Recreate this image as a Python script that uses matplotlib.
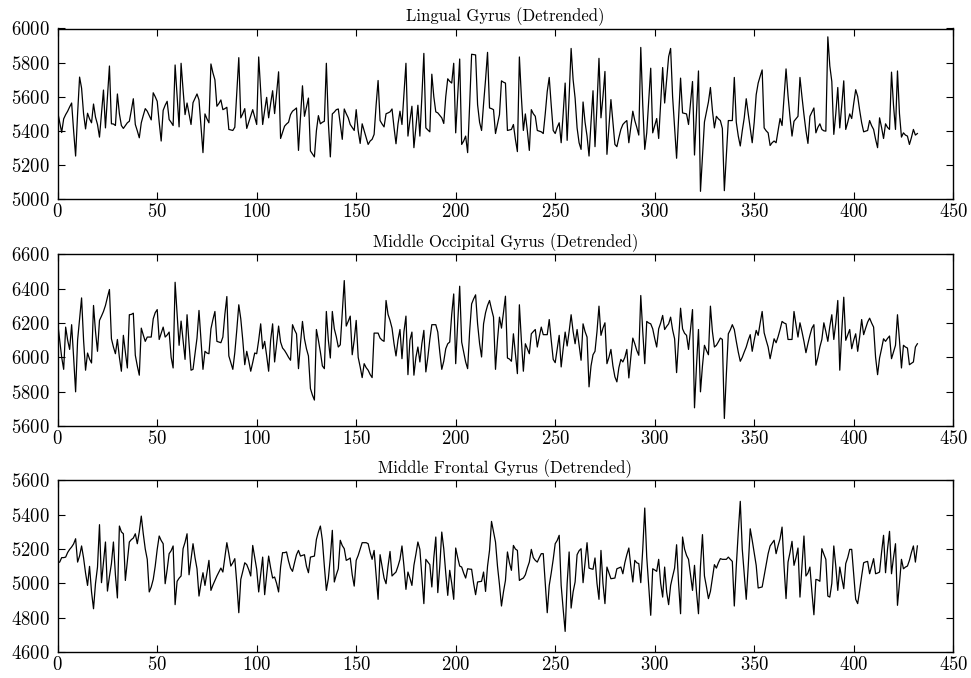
import numpy as np
import matplotlib
matplotlib.use("Agg")
import matplotlib.pyplot as plt

plt.rcParams['font.family'] = ['cmr10', 'DejaVu Serif']
plt.rcParams['axes.formatter.use_mathtext'] = True
plt.rcParams['font.size'] = 12

titles = ["Lingual Gyrus (Detrended)",
          "Middle Occipital Gyrus (Detrended)",
          "Middle Frontal Gyrus (Detrended)"]

lingual = [
5510,5450,5390,5470,5495,5515,5540,5563,5400,5252,5500,5715,5650,5500,5411,5503,5470,5447,5557,5480,
5437,5363,5500,5639,5417,5600,5780,5441,5440,5431,5616,5500,5431,5414,5430,5447,5456,5520,5588,5437,
5400,5359,5447,5490,5530,5515,5490,5464,5623,5600,5573,5450,5340,5520,5550,5573,5466,5450,5431,5786,
5600,5423,5796,5640,5495,5563,5500,5437,5565,5590,5616,5581,5430,5272,5499,5470,5447,5792,5740,5699,
5544,5560,5581,5524,5530,5538,5408,5405,5402,5421,5620,5829,5476,5500,5530,5414,5450,5484,5524,5480,
5437,5833,5640,5437,5520,5596,5476,5560,5635,5501,5620,5746,5355,5390,5427,
5440,5450,5495,5515,5524,5534,5285,5480,5664,5485,5540,5592,5282,5265,5247,5400,5489,5441,5450,5456,
5796,5450,5247,5499,5510,5524,5528,5440,5350,5528,5500,5476,5437,5420,5402,5524,5400,5326,5441,5400,
5359,5320,5340,5350,5379,5550,5695,5460,5440,5423,5500,5505,5511,5528,5420,5324,5440,5515,5437,5620,
5796,5369,5460,5544,5301,5420,5550,5369,5600,5854,5417,5405,5394,5732,5600,5511,5505,5490,5476,5443,
5600,5705,5690,5680,5796,5388,5600,5821,5320,5340,5369,5272,5550,5849,5847,5845,5553,5450,5402,5557,
5700,5860,5534,5530,5524,5384,5440,5495,5693,5685,5680,
5402,5405,5408,5437,5350,5278,5833,5600,5402,5499,5400,5285,5524,5500,5485,5402,5398,5394,5384,5500,
5631,5713,5550,5402,5384,5420,5447,5330,5500,5680,5344,5600,5883,5700,5592,5417,5330,5291,5569,5450,
5369,5252,5450,5635,5307,5550,5825,5476,5600,5748,5262,5420,5583,5450,5320,5307,5360,5408,5437,5450,
5460,5330,5420,5515,5460,5420,5375,5889,5550,5291,5388,5580,5767,5388,5430,5472,5355,5560,5771,5563,
5700,5835,5883,5600,5417,5239,5480,5709,5505,5502,5499,5437,5560,5689,5258,5500,5751,5045,5250,5452,
5510,5569,5654,5520,5417,5485,5470,5460,5414,5049,5250,5460,5460,5460,5713,
5450,5369,5311,5400,5476,5588,5500,5417,5330,5450,5612,5680,5720,5757,5417,5400,5388,5314,5330,5340,
5330,5400,5472,5431,5600,5763,5606,5480,5369,5456,5470,5485,5713,5600,5495,5400,5326,5485,5510,5534,
5388,5420,5441,5408,5400,5398,5951,5780,5689,5379,5500,5654,5417,5550,5693,5408,5450,5499,5472,5560,
5641,5602,5520,5447,5394,5398,5402,5460,5430,5408,5350,5301,5476,5420,5355,5441,5420,5408,5744,5550,
5408,5751,5500,5363,5388,5375,5369,5320,5360,5408,5375,5384]

occipital = [
6200,6100,6000,5930,6176,6100,6046,6190,6000,5799,6100,6224,6346,6100,5925,6025,5990,5967,6302,6150,
6035,6215,6240,6267,6302,6350,6395,6108,6060,6021,6104,6000,5919,6128,6030,5938,6248,6250,6257,6012,
5950,5896,6170,6130,6093,6118,6118,6118,6224,6260,6278,6104,6140,6176,6118,6130,6147,6000,5938,6437,
6250,6070,6211,6100,5988,6248,6080,5925,5930,6020,6112,6273,6100,5930,6035,6025,6021,6166,6220,6267,
6093,6089,6085,6118,6250,6354,6008,5970,5930,6027,6160,6306,6224,6100,5957,6035,5980,5919,5970,6025,
6021,6100,6195,6050,6093,6010,5919,6100,6195,5973,6080,6182,6089,6054,
6040,6021,6000,5983,6190,6160,6137,5934,6080,6209,6108,6050,6008,5818,5780,5751,6162,6100,6031,5950,
5934,6267,6100,5996,6267,6166,6120,6060,6073,6260,6447,6182,6210,6240,6015,6100,6215,6000,5944,5882,
5963,5940,5925,5900,5882,6141,6141,6141,6112,6100,6093,6331,6250,6215,6170,6080,6008,6100,6162,5992,
6150,6240,5899,6100,6147,5896,6000,6060,5973,6080,6157,5915,6000,6104,6190,6190,6190,6147,6030,5930,
5977,6050,6079,6089,6250,6369,5963,6200,6414,6089,6030,5973,5934,6150,6311,6340,6364,6195,6080,6002,
6195,6260,6302,6331,6280,6234,5930,6100,6234,6170,6260,6356,
5996,5990,5977,6137,6020,5905,6306,6100,5919,6079,6050,6021,6137,6150,6162,6060,6120,6176,6132,6132,
6132,6220,6100,5988,5969,6050,6128,5944,6050,6147,6066,6150,6248,6150,6079,6162,6070,5983,6195,6150,
6118,5828,5950,6015,6035,6150,6298,6128,6170,6201,5963,6000,6046,5950,5886,5857,5940,5988,5973,6000,
6046,5880,6000,6112,6079,6040,6012,6360,6150,5963,6209,6200,6195,6166,6110,6060,6166,6200,6244,6162,
6180,6195,6234,6160,6108,5911,6100,6286,6166,6140,6128,6046,6160,6278,5706,5950,6162,5799,5950,6070,
6040,6015,6298,6150,6060,6070,6090,6112,6104,5644,5900,6137,6160,6190,6162,
6093,6030,5977,6000,6031,6060,6100,6132,6035,6100,6157,6128,6200,6267,6143,6100,6060,5992,6050,6108,
6085,6120,6162,6209,6200,6195,6104,6104,6104,6267,6190,6118,6201,6150,6093,6027,6080,6128,6170,6190,
5954,6000,6060,6104,6201,6150,6093,6180,6248,6104,6200,6331,5925,6150,6350,6099,6130,6162,6050,6100,
6137,6035,6120,6220,6132,6170,6205,6228,6200,6176,6000,5899,5996,6050,6108,6093,6110,6124,5992,6030,
6070,6248,6100,5938,6070,6060,6054,5957,5965,5973,6060,6079]

frontal = [
5120,5124,5150,5150,5153,5180,5198,5212,5230,5260,5124,5160,5218,5148,5060,4988,5099,4950,4852,5000,
5095,5342,5004,5120,5241,4955,5040,5115,5241,5050,4915,5334,5300,5289,5017,5130,5241,5255,5264,5289,
5231,5300,5392,5289,5200,5140,4950,4979,5023,5100,5198,5276,5250,5231,4998,5080,5173,5190,5218,4876,
5012,5030,5043,5202,5240,5289,5050,5140,5231,5150,5085,4926,5000,5062,4988,5060,5134,4959,4990,5017,
5043,5066,5089,5066,5150,5237,5173,5101,5120,5144,5000,4829,5023,5070,5120,5109,5080,5043,5221,5150,
5082,4950,5050,5153,4934,5050,5159,5090,5031,5037,5000,4950,5095,5179,
5179,5183,5130,5089,5070,5120,5167,5192,5159,5163,5167,5100,5062,5153,5156,5159,5256,5300,5334,5251,
5100,4959,5027,5150,5309,5008,5050,5085,5251,5220,5202,5134,5140,5148,5050,4984,5134,5163,5200,5237,
5237,5237,5231,5180,5140,5192,5050,4907,5167,5100,5031,4998,5100,5186,5043,5055,5066,5100,5140,5218,
5100,4965,5066,5030,4988,5105,5170,5241,5198,5040,4882,5140,5125,5109,4979,5150,5270,4946,5100,5299,
5202,5060,4930,5076,5000,4907,5206,5150,5101,5095,5060,5031,5085,5083,5082,5000,4934,5008,5010,5012,
5066,4953,5100,5192,5361,5300,5241,5100,4992,4868,4950,5017,
5183,5120,5076,5221,5200,5192,5017,5025,5031,5050,5090,5124,5198,5150,5134,5124,5150,5173,5173,5000,
4829,4988,5060,5140,5231,5250,5280,4988,4850,4720,5000,5183,4856,4950,5008,5167,5190,5202,5004,5120,
5237,5089,5085,5082,5148,5000,4907,5192,5000,4882,5095,5060,5027,5029,5031,5085,5090,5095,5056,5120,
5167,5206,5100,5008,5134,5120,5115,5004,5200,5439,5153,4980,4814,5085,5078,5070,5140,5000,4920,5095,
4950,4876,4988,5040,5089,5225,5000,4823,5270,5200,5163,5140,5050,4959,5105,4950,4823,5100,5284,5043,
4980,4911,4953,5030,5109,5089,5120,5144,5140,5140,5140,5153,5140,5128,4868,
5100,5300,5478,5200,5050,4907,5100,5318,5251,5180,5105,4973,4976,4979,5043,5110,5173,5218,5235,5251,
5173,5220,5260,5328,5100,4911,5124,5180,5245,5105,5150,5206,4920,5100,5276,5043,5060,5095,4950,4817,
5023,5020,5012,5202,5170,5140,4926,4920,5000,5218,5100,4959,5095,5030,4969,5115,5150,5198,5198,5050,
4907,4882,4960,5043,5120,5125,5128,5056,5100,5144,5056,5060,5066,5180,5280,5062,5200,5303,5056,5150,
5231,4872,5000,5140,5085,5095,5101,5134,5180,5218,5124,5218]

series = [lingual, occipital, frontal]
ylims = [(5000, 6000), (5600, 6600), (4600, 5600)]
xticks = [0, 50, 100, 150, 200, 250, 300, 350, 400, 450]

fig = plt.figure(figsize=(9.71, 6.78), dpi=100)
left = 57.7 / 971
width = (953.2 - 57.7) / 971
boxes = [(28.5, 199.0), (254.3, 426.0), (480.4, 652.0)]

for k, (ys, title, yl, (top, bot)) in enumerate(zip(series, titles, ylims, boxes)):
    ax = fig.add_axes([left, 1 - bot / 678, width, (bot - top) / 678])
    x = np.arange(len(ys))
    ax.plot(x, ys, color='black', linewidth=0.9)
    ax.set_xlim(0, 450)
    ax.set_ylim(*yl)
    ax.set_xticks(xticks)
    ax.set_yticks(np.arange(yl[0], yl[1] + 1, 200))
    ax.tick_params(direction='in', top=True, right=True, length=5, width=0.8,
                   labelsize=13.5)
    ax.tick_params(axis='y', pad=6)
    ax.tick_params(axis='x', pad=3)
    for s in ax.spines.values():
        s.set_linewidth(1.0)
    ax.set_title(title, fontsize=12, pad=5)

fig.savefig("out.png", dpi=100)
